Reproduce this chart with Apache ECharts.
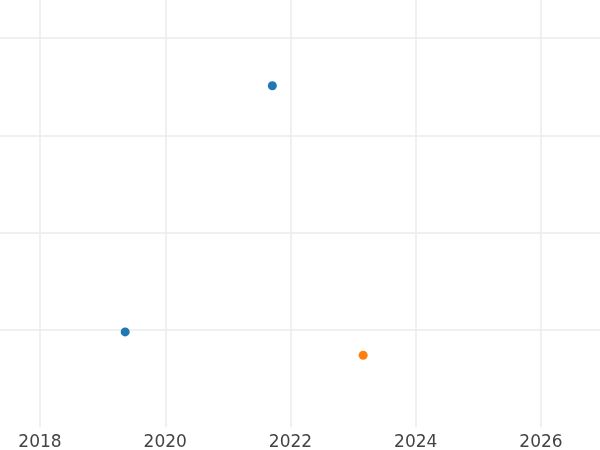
<!DOCTYPE html>
<html>
<head>
<meta charset="utf-8">
<script src="https://cdn.jsdelivr.net/npm/echarts@6/dist/echarts.min.js"></script>
<style>
  html, body { margin: 0; padding: 0; background: #fff; }
  #chart { width: 600px; height: 450px; }
</style>
</head>
<body>
<div id="chart"></div>
<script>
// values
var blueX = [2021.71, 2019.36];
var blueY = [3.51, 0.98];
var orangeX = [2023.16];
var orangeY = [0.74];

function pairs(xs, ys) {
  return xs.map(function (x, i) { return [x, ys[i]]; });
}

var chart = echarts.init(document.getElementById('chart'));
chart.setOption({
  animation: false,
  backgroundColor: '#fff',
  // grid runs past the canvas so that 2018..2026 land where they do in the picture
  grid: {
    left: -85.25, right: -66.25, top: -59.3, bottom: 22.7,
    containLabel: false,
    outerBoundsMode: 'none'
  },
  xAxis: {
    type: 'value',
    min: 2016,
    max: 2028,
    interval: 2,
    axisLine: { show: false },
    axisTick: { show: false },
    axisLabel: {
      color: '#444',
      fontSize: 17,
      fontFamily: 'DejaVu Sans',
      margin: 7,
      formatter: function (v) { return String(v); }
    },
    splitLine: { show: true, lineStyle: { color: '#ebebeb', width: 1.5 } }
  },
  yAxis: {
    type: 'value',
    min: 0,
    max: 5,
    interval: 1,
    axisLine: { show: false },
    axisTick: { show: false },
    axisLabel: { show: false },
    splitLine: { show: true, showMinLine: false, lineStyle: { color: '#ebebeb', width: 1.5 } }
  },
  series: [
    {
      type: 'scatter',
      symbolSize: 9,
      itemStyle: { color: '#1f77b4', opacity: 1 },
      data: pairs(blueX, blueY)
    },
    {
      type: 'scatter',
      symbolSize: 9,
      itemStyle: { color: '#ff7f0e', opacity: 1 },
      data: pairs(orangeX, orangeY)
    }
  ]
});
</script>
</body>
</html>
